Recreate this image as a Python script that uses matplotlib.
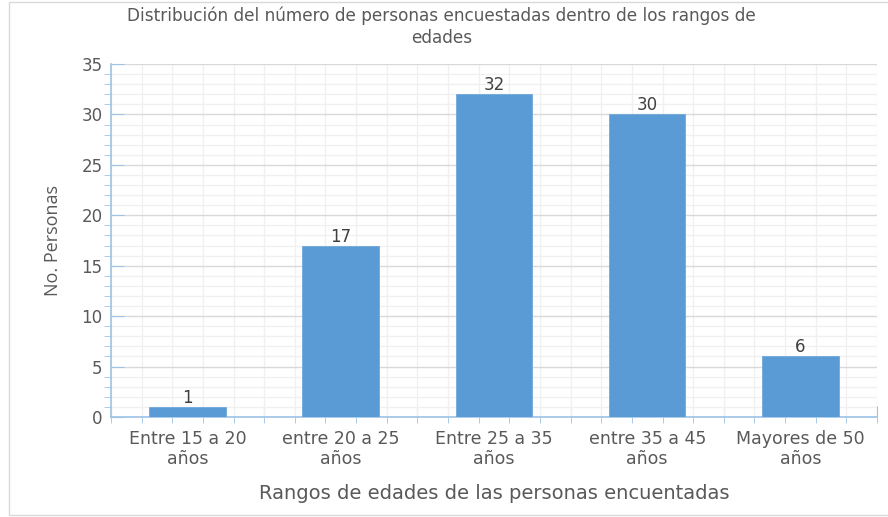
import matplotlib.pyplot as plt
from matplotlib.ticker import MultipleLocator, FixedLocator
from matplotlib.patches import Rectangle

# datos del grafico
categorias = ['Entre 15 a 20\naños', 'entre 20 a 25\naños', 'Entre 25 a 35\naños',
              'entre 35 a 45\naños', 'Mayores de 50\naños']
personas = [1, 17, 32, 30, 6]

titulo = 'Distribución del número de personas encuestadas dentro de los rangos de\nedades'
etiqueta_x = 'Rangos de edades de las personas encuentadas'
etiqueta_y = 'No. Personas'

plt.rcParams['font.family'] = ['DejaVu Sans']
gris = '#595959'
azul_eje = '#9dc3e6'

fig = plt.figure(figsize=(8.88, 5.17), dpi=100)
ax = fig.add_axes([0.125, 0.1934, 0.8626, 0.6828])

# marco exterior
fig.patches.append(Rectangle((0.010, 0.004), 1.2, 0.992, transform=fig.transFigure,
                             fill=False, edgecolor='#d9d9d9', linewidth=1))

x = list(range(len(categorias)))
barras = ax.bar(x, personas, width=0.5, color='#5b9bd5', edgecolor='#6fa8dc',
                linewidth=0.6, zorder=3)
ax.bar_label(barras, labels=[str(v) for v in personas], padding=0,
             fontsize=12, color='#404040')

ax.set_xlim(-0.5, len(categorias) - 0.5)
ax.set_ylim(0, 35)

# eje y
ax.yaxis.set_major_locator(MultipleLocator(5))
ax.yaxis.set_minor_locator(MultipleLocator(1))
ax.tick_params(axis='y', which='major', direction='in', length=9, color=azul_eje,
               labelsize=12, labelcolor=gris, pad=6)
ax.tick_params(axis='y', which='minor', direction='out', length=5, color=azul_eje)

# eje x
ax.set_xticks(x)
ax.set_xticklabels(categorias, fontsize=12.5, color=gris, linespacing=1.2)
ax.xaxis.set_minor_locator(FixedLocator([-0.5 + 0.2 * i for i in range(26)]))
ax.tick_params(axis='x', which='major', length=0, pad=9)
ax.tick_params(axis='x', which='minor', direction='out', length=4, color=azul_eje)

sec = ax.secondary_xaxis('bottom')
sec.set_xticks([-0.5 + i for i in range(len(categorias) + 1)])
sec.set_xticklabels([])
sec.tick_params(direction='in', length=8, color=azul_eje)
sec.spines['bottom'].set_visible(False)

# rejilla
ax.grid(axis='y', which='major', color='#d9d9d9', linewidth=1, zorder=0)
ax.grid(axis='y', which='minor', color='#f0f0f0', linewidth=1, zorder=0)
ax.grid(axis='x', which='minor', color='#f0f0f0', linewidth=1, zorder=0)
ax.set_axisbelow(True)

for lado in ['top', 'right']:
    ax.spines[lado].set_visible(False)
ax.spines['left'].set_color(azul_eje)
ax.spines['bottom'].set_color(azul_eje)
ax.spines['left'].set_linewidth(1.2)
ax.spines['bottom'].set_linewidth(1.2)

ax.set_xlabel(etiqueta_x, fontsize=14, color=gris, labelpad=11)
ax.set_ylabel(etiqueta_y, fontsize=13, color=gris, labelpad=14,
              family=['Liberation Sans Narrow', 'DejaVu Sans Condensed', 'Open Sans'])
fig.text(0.497, 0.988, titulo, ha='center', va='top', fontsize=12.2, color=gris,
         linespacing=1.3)

fig.savefig('out.png', dpi=100)
